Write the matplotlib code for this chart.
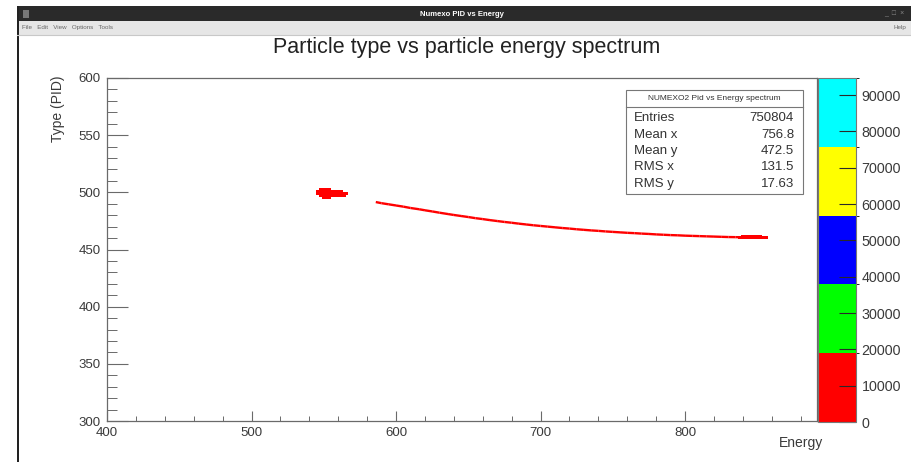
import numpy as np
import matplotlib
matplotlib.use("Agg")
import matplotlib.pyplot as plt
from matplotlib.colors import ListedColormap, BoundaryNorm
from matplotlib.cm import ScalarMappable
from matplotlib.patches import Rectangle
from matplotlib.lines import Line2D
from matplotlib.collections import LineCollection

plt.rcParams['font.family'] = ['Liberation Sans', 'DejaVu Sans']

# ---------------- data ----------------
title = "Particle type vs particle energy spectrum"
window_title = "Numexo PID vs Energy"
x_label = "Energy"
y_label = "Type (PID)"
x_range = [400, 891.3]
y_range = [300, 600]
x_major = [400, 500, 600, 700, 800]
y_major = [300, 350, 400, 450, 500, 550, 600]

# main cluster bins (energy, PID, counts)
cluster_energy = [548, 550, 552, 554,
                  546, 548, 550, 552, 554, 556, 558, 560, 562,
                  546, 548, 550, 552, 554, 556, 558, 560, 562, 564, 566,
                  548, 550, 552, 554, 556, 558, 560, 562, 564,
                  550, 552, 554]
cluster_pid = [503, 503, 503, 503,
               501, 501, 501, 501, 501, 501, 501, 501, 501,
               499, 499, 499, 499, 499, 499, 499, 499, 499, 499, 499,
               497, 497, 497, 497, 497, 497, 497, 497, 497,
               495, 495, 495]
cluster_counts = [4000, 6000, 5000, 3000,
                  5000, 9000, 12000, 11000, 8000, 6000, 5000, 4000, 3000,
                  6000, 10000, 15000, 14000, 12000, 9000, 7000, 6000, 5000, 3000, 2000,
                  4000, 7000, 9000, 8000, 6000, 5000, 4000, 3000, 2000,
                  3000, 4000, 3000]

# curved track (energy, PID, counts)
track_energy = [586, 590, 595, 600, 605, 610, 616, 620, 625, 630, 636, 640, 645,
                650, 655, 660, 665, 670, 675, 680, 685, 690, 695, 700, 705, 710,
                715, 720, 725, 730, 735, 740, 745, 750, 755, 760, 765, 770, 775,
                780, 785, 790, 795, 800, 805, 810, 815, 820, 825, 830, 835, 840,
                845, 850, 855]
track_pid = [491.5, 490.5, 489.5, 488.5, 487.5, 486.3, 485.2, 484.3, 483.3, 482.2,
             481.0, 480.2, 479.3, 478.4, 477.4, 476.6, 475.7, 474.9, 474.1, 473.4,
             472.6, 471.9, 471.2, 470.6, 470.0, 469.4, 468.8, 468.3, 467.7, 467.2,
             466.7, 466.3, 465.8, 465.4, 465.0, 464.6, 464.3, 463.9, 463.6, 463.2,
             462.9, 462.6, 462.4, 462.1, 461.9, 461.7, 461.5, 461.3, 461.1, 460.9,
             460.8, 460.7, 460.6, 460.6, 460.5]
track_counts = [300, 200, 300, 400, 300, 500, 400, 600, 500, 700, 600, 800, 900,
                1000, 1100, 1200, 1300, 1400, 1500, 1600, 1800, 2000, 2100, 2300,
                2500, 2600, 2800, 3000, 3200, 3300, 3500, 3600, 3800, 4000, 4200,
                4300, 4500, 4600, 4800, 5000, 5200, 5400, 5600, 5800, 6000, 6200,
                6400, 6600, 7000, 7500, 8000, 9000, 9500, 9000, 7000]

# dense end of the track
end_energy = [838, 840, 842, 844, 846, 848, 850, 852, 854, 856,
              840, 842, 844, 846, 848, 850, 852]
end_pid = [460.5, 460.5, 460.5, 460.5, 460.5, 460.5, 460.5, 460.5, 460.5, 460.5,
           462, 462, 462, 462, 462, 462, 462]
end_counts = [5000, 7000, 9000, 11000, 12000, 11000, 9000, 7000, 5000, 3000,
              4000, 6000, 7000, 8000, 7000, 5000, 3000]

# colour palette (ROOT COLZ with 5 colours)
palette_colors = ['#ff0000', '#00ff00', '#0000ff', '#ffff00', '#00ffff']
z_levels = [0, 18940, 37880, 56820, 75760, 94700]
z_ticks = [0, 10000, 20000, 30000, 40000, 50000, 60000, 70000, 80000, 90000]

# stats box
stats_title = "NUMEXO2 Pid vs Energy spectrum"
stats_names = ["Entries", "Mean x", "Mean y", "RMS x", "RMS y"]
stats_values = ["750804", "756.8", "472.5", "131.5", "17.63"]

# ---------------- figure ----------------
W, H = 912, 462
fig = plt.figure(figsize=(W / 100, H / 100), dpi=100)
fig.patch.set_facecolor('white')

def fx(px):
    return px / W

def fy(py):
    return 1 - py / H

# window chrome
fig.patches.append(Rectangle((fx(17), fy(21)), 1 - fx(17), 15 / H,
                             transform=fig.transFigure, facecolor='#2a2a2a',
                             edgecolor='none', zorder=0))
fig.patches.append(Rectangle((fx(17), fy(35)), 1 - fx(17), 14 / H,
                             transform=fig.transFigure, facecolor='#e6e6e6',
                             edgecolor='none', zorder=0))
fig.lines.append(Line2D([fx(17), 1], [fy(35), fy(35)], transform=fig.transFigure,
                        color='#c8c8c8', lw=0.8))
fig.patches.append(Rectangle((fx(17), 0), 2 / W, fy(6),
                             transform=fig.transFigure, facecolor='#222222',
                             edgecolor='none', zorder=1))
fig.text(fx(462), fy(14), window_title, color='white', fontsize=5.5,
         fontweight='bold', ha='center', va='center')
fig.text(fx(22), fy(28), "File   Edit   View   Options   Tools", color='#666666',
         fontsize=4.5, ha='left', va='center')
fig.text(fx(906), fy(28), "Help", color='#666666', fontsize=4.5, ha='right', va='center')
fig.patches.append(Rectangle((fx(23), fy(18)), 6 / W, 8 / H, transform=fig.transFigure,
                             facecolor='#777777', edgecolor='none'))
fig.text(fx(904), fy(14), "_  \u25a1  \u00d7", color='#888888', fontsize=5,
         ha='right', va='center')

# axes
ax = fig.add_axes([fx(107), fy(421), (817 - 107) / W, (421 - 78) / H])
cax = fig.add_axes([fx(818), fy(422), (856 - 818) / W, (422 - 78) / H])

cmap = ListedColormap(palette_colors)
norm = BoundaryNorm(z_levels, cmap.N)

def draw_bins(e, p, c, w, h):
    e = np.asarray(e, float)
    p = np.asarray(p, float)
    ax.bar(e, h, bottom=p - h / 2, width=w, color=cmap(norm(np.asarray(c))),
           linewidth=0, align='center', zorder=3)

draw_bins(cluster_energy, cluster_pid, cluster_counts, 2.2, 2.2)

# track drawn as a thin band, coloured by counts
pts = np.column_stack([track_energy, track_pid])
segs = np.stack([pts[:-1], pts[1:]], axis=1)
seg_counts = np.asarray(track_counts[:-1])
lc = LineCollection(segs, colors=cmap(norm(seg_counts)), linewidths=1.7,
                    capstyle='butt', zorder=3)
ax.add_collection(lc)
draw_bins(end_energy, end_pid, end_counts, 2.2, 2.0)

ax.set_xlim(*x_range)
ax.set_ylim(*y_range)
ax.set_xticks(x_major)
ax.set_yticks(y_major)
ax.set_xticks(np.arange(400, 891, 20), minor=True)
ax.set_yticks(np.arange(300, 601, 10), minor=True)
axis_col = '#6a6a6a'
for s in ax.spines.values():
    s.set_color(axis_col)
    s.set_linewidth(0.9)
ax.tick_params(axis='x', which='major', direction='in', length=7.5, width=0.8,
               color=axis_col, labelsize=9.5, labelcolor='#3a3a3a', pad=4)
ax.tick_params(axis='x', which='minor', direction='in', length=3.8, width=0.7,
               color=axis_col)
ax.tick_params(axis='y', which='major', direction='in', length=15, width=0.8,
               color=axis_col, labelsize=9.5, labelcolor='#3a3a3a', pad=4.5)
ax.tick_params(axis='y', which='minor', direction='in', length=7, width=0.7,
               color=axis_col)

# colorbar
sm = ScalarMappable(norm=norm, cmap=cmap)
cb = fig.colorbar(sm, cax=cax, ticks=z_ticks, spacing='proportional')
cb.outline.set_edgecolor('#777777')
cb.outline.set_linewidth(0.8)
cax.tick_params(direction='in', length=12, width=0.8, color='#2a2a2a',
                labelsize=10.3, labelcolor='#3a3a3a', pad=4)
cax.yaxis.set_ticklabels([str(t) for t in z_ticks])

# texts
fig.text(fx(467), fy(48), title, fontsize=15.5, color='#222222', ha='center', va='center')
fig.text(fx(823), fy(443), x_label, fontsize=10, color='#3a3a3a', ha='right', va='center')
fig.text(fx(58), fy(76), y_label, fontsize=10, color='#3a3a3a', rotation=90,
         ha='center', va='top')

# stats box
bx0, bx1, by0, by1 = 626, 803, 90, 194
fig.patches.append(Rectangle((fx(bx0), fy(by1)), (bx1 - bx0) / W, (by1 - by0) / H,
                             transform=fig.transFigure, facecolor='white',
                             edgecolor='#777777', lw=0.8, zorder=5))
fig.lines.append(Line2D([fx(bx0), fx(bx1)], [fy(107), fy(107)],
                        transform=fig.transFigure, color='#777777', lw=0.8, zorder=6))
fig.text(fx((bx0 + bx1) / 2), fy(98.5), stats_title, fontsize=6, color='#333333',
         ha='center', va='center', zorder=7)
for i, (n, v) in enumerate(zip(stats_names, stats_values)):
    yy = 118 + i * 16.5
    fig.text(fx(634), fy(yy), n, fontsize=9.5, color='#333333', ha='left',
             va='center', zorder=7)
    fig.text(fx(794), fy(yy), v, fontsize=9.5, color='#333333', ha='right',
             va='center', zorder=7)

fig.savefig("out.png", dpi=100)
